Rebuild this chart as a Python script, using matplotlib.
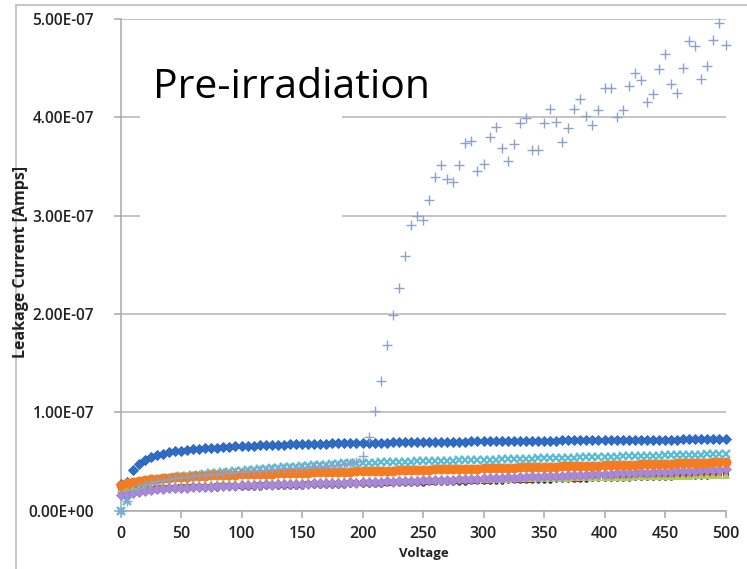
import numpy as np
import matplotlib as mpl
mpl.use('agg')
import matplotlib.pyplot as plt
from matplotlib.patches import Rectangle

# bias voltage, 0..500 V in 5 V steps
voltage = np.arange(0, 501, 5)

# leakage current of each sensor, in nA
blue_diamond = [27, 29, 41, 47.5, 51.5, 54.5, 56.5, 58, 59.2, 60.2, 61,
                61.7, 62.3, 62.8, 63.3, 63.8, 64.2, 64.6, 65, 65.3, 65.6,
                65.9, 66.2, 66.4, 66.6, 66.8, 67, 67.2, 67.4, 67.6, 67.8,
                67.9, 68, 68.1, 68.2, 68.4, 68.5, 68.6, 68.7, 68.8, 68.9,
                69, 69.1, 69.2, 69.3, 69.4, 69.5, 69.6, 69.6, 69.7, 69.8,
                69.9, 70, 70, 70.1, 70.2, 70.3, 70.3, 70.4, 70.5, 70.5,
                70.6, 70.7, 70.7, 70.8, 70.9, 70.9, 71, 71.1, 71.1, 71.2,
                71.3, 71.3, 71.4, 71.4, 71.5, 71.6, 71.6, 71.7, 71.7, 71.8,
                71.9, 71.9, 72, 72, 72.1, 72.1, 72.2, 72.2, 72.3, 72.3,
                72.4, 72.4, 72.5, 72.5, 72.6, 72.6, 72.7, 72.7, 72.8, 72.8]

cyan_x = [0, 10, 22, 26, 28.5, 30, 31.5, 32.5, 33.5, 34.3, 35,
          35.6, 36.2, 36.8, 37.4, 38, 38.5, 39, 39.5, 40, 40.5,
          41, 41.5, 42, 42.5, 43, 43.5, 44, 44.4, 44.8, 45.2,
          45.6, 46, 46.4, 46.8, 47.2, 47.6, 48, 48.2, 48.5, 48.7,
          48.9, 49.0, 49.2, 49.3, 49.5, 49.6, 49.8, 49.9, 50.1, 50.2,
          50.4, 50.5, 50.7, 50.8, 51.0, 51.1, 51.3, 51.4, 51.6, 51.7,
          51.9, 52.0, 52.2, 52.3, 52.5, 52.6, 52.8, 52.9, 53.1, 53.2,
          53.4, 53.5, 53.7, 53.8, 54.0, 54.1, 54.3, 54.4, 54.6, 54.7,
          54.9, 55.0, 55.2, 55.3, 55.5, 55.6, 55.8, 55.9, 56.1, 56.2,
          56.4, 56.5, 56.7, 56.8, 57.0, 57.1, 57.3, 57.4, 57.6, 57.7]

orange_circle = [26, 28, 29.5, 30.5, 31.3, 32, 32.6, 33.1, 33.6, 34, 34.4,
                 34.7, 35.0, 35.3, 35.6, 35.9, 36.1, 36.3, 36.5, 36.7, 36.9,
                 37.1, 37.3, 37.5, 37.6, 37.8, 38.0, 38.1, 38.3, 38.4, 38.6,
                 38.7, 38.9, 39.0, 39.2, 39.3, 39.5, 39.6, 39.8, 39.9, 40.1,
                 40.2, 40.4, 40.5, 40.7, 40.8, 41.0, 41.1, 41.3, 41.4, 41.6,
                 41.7, 41.9, 42.0, 42.2, 42.3, 42.5, 42.6, 42.8, 42.9, 43.1,
                 43.2, 43.4, 43.5, 43.7, 43.8, 44.0, 44.1, 44.3, 44.4, 44.6,
                 44.7, 44.9, 45.0, 45.2, 45.3, 45.5, 45.6, 45.8, 45.9, 46.1,
                 46.2, 46.4, 46.5, 46.7, 46.8, 47.0, 47.1, 47.3, 47.4, 47.6,
                 47.8, 48.0, 48.2, 48.4, 48.6, 48.8, 49.0, 49.3, 49.6, 50.0]

green_tri = [22.5, 23.3, 24.0, 24.5, 24.9, 25.3, 25.6, 25.9, 26.1, 26.3, 26.5,
             26.7, 26.9, 27.1, 27.3, 27.5, 27.6, 27.8, 27.9, 28.1, 28.3,
             28.4, 28.5, 28.6, 28.7, 28.8, 28.9, 29.0, 29.1, 29.2, 29.3,
             29.4, 29.5, 29.6, 29.7, 29.8, 29.9, 30.0, 30.1, 30.2, 30.3,
             30.4, 30.5, 30.6, 30.7, 30.8, 30.9, 31.0, 31.1, 31.2, 31.3,
             31.4, 31.5, 31.6, 31.7, 31.8, 31.9, 32.0, 32.1, 32.2, 32.3,
             32.4, 32.5, 32.6, 32.7, 32.8, 32.9, 33.0, 33.1, 33.2, 33.3,
             33.4, 33.5, 33.6, 33.7, 33.8, 33.9, 34.0, 34.1, 34.2, 34.3,
             34.4, 34.5, 34.6, 34.7, 34.8, 34.9, 35.0, 35.1, 35.2, 35.3,
             35.4, 35.5, 35.6, 35.7, 35.8, 35.9, 36.0, 36.1, 36.2, 36.3]

red_square = [19.0, 20.0, 20.8, 21.4, 21.9, 22.3, 22.6, 22.9, 23.2, 23.4, 23.6,
              23.8, 24.0, 24.2, 24.4, 24.5, 24.7, 24.8, 25.0, 25.1, 25.3,
              25.4, 25.5, 25.7, 25.8, 25.9, 26.1, 26.2, 26.3, 26.5, 26.6,
              26.7, 26.9, 27.0, 27.1, 27.3, 27.4, 27.5, 27.7, 27.8, 27.9,
              28.1, 28.2, 28.3, 28.5, 28.6, 28.7, 28.9, 29.0, 29.1, 29.3,
              29.4, 29.5, 29.7, 29.8, 29.9, 30.1, 30.2, 30.3, 30.5, 30.6,
              30.7, 30.9, 31.0, 31.1, 31.3, 31.4, 31.5, 31.7, 31.8, 31.9,
              32.1, 32.2, 32.3, 32.5, 32.6, 32.7, 32.9, 33.0, 33.1, 33.3,
              33.4, 33.5, 33.7, 33.8, 33.9, 34.1, 34.2, 34.3, 34.5, 34.6,
              34.7, 34.9, 35.0, 35.1, 35.3, 35.4, 35.5, 35.7, 35.8, 35.9]

navy_dot = [15.0, 16.5, 17.6, 18.4, 19.0, 19.5, 19.9, 20.3, 20.6, 20.9, 21.2,
            21.4, 21.6, 21.8, 22.0, 22.2, 22.4, 22.6, 22.7, 22.9, 23.1,
            23.2, 23.4, 23.5, 23.7, 23.8, 24.0, 24.1, 24.3, 24.4, 24.6,
            24.7, 24.9, 25.0, 25.2, 25.3, 25.5, 25.6, 25.8, 25.9, 26.1,
            26.2, 26.4, 26.5, 26.7, 26.8, 27.0, 27.1, 27.3, 27.4, 27.6,
            27.7, 27.9, 28.0, 28.2, 28.3, 28.5, 28.6, 28.8, 28.9, 29.1,
            29.2, 29.4, 29.5, 29.7, 29.8, 30.0, 30.1, 30.3, 30.4, 30.6,
            30.7, 30.9, 31.0, 31.2, 31.3, 31.5, 31.6, 31.8, 31.9, 32.1,
            32.2, 32.4, 32.5, 32.7, 32.8, 33.0, 33.1, 33.3, 33.4, 33.6,
            33.7, 33.9, 34.0, 34.2, 34.3, 34.5, 34.6, 34.8, 34.9, 35.1]

purple_diamond = [15.5, 17.0, 18.5, 19.5, 20.5, 21.0, 21.8, 22.0, 22.6, 22.8, 23.3,
                  23.4, 23.9, 24.0, 24.5, 24.4, 25.0, 25.1, 25.5, 25.4, 26.0,
                  25.9, 26.3, 26.2, 26.7, 26.5, 27.0, 26.9, 27.3, 27.2, 27.6,
                  27.5, 27.9, 27.7, 28.2, 28.0, 28.5, 28.3, 28.7, 28.6, 29.0,
                  28.9, 29.4, 29.2, 29.8, 29.6, 30.2, 30.0, 30.5, 30.4, 30.9,
                  30.8, 31.3, 31.2, 31.7, 31.5, 32.1, 32.0, 32.5, 32.4, 33.0,
                  32.8, 33.4, 33.3, 33.9, 33.7, 34.3, 34.2, 34.8, 34.6, 35.2,
                  35.1, 35.7, 35.5, 36.1, 36.0, 36.6, 36.5, 37.1, 36.9, 37.5,
                  37.4, 38.0, 37.9, 38.5, 38.3, 38.9, 38.8, 39.4, 39.2, 39.8,
                  39.7, 40.3, 40.1, 40.7, 40.6, 41.2, 41.0, 41.6, 41.5, 42.4]

plus_sensor = [0, 10, 21, 25, 27.5, 29, 30.5, 31.5, 32.5, 33.3, 34,
               34.6, 35.2, 35.8, 36.4, 37, 37.5, 38, 38.5, 39, 39.5,
               40, 40.5, 41, 41.5, 42, 42.5, 43, 43.4, 43.8, 44.2,
               44.6, 45, 45.4, 45.8, 46.2, 46.6, 47.2, 48.2, 50.0, 56,
               75, 101, 132, 169, 199, 226, 259, 291, 300, 296,
               316, 339, 352, 337, 334, 352, 374, 376, 345, 353,
               380, 390, 369, 356, 373, 394, 399, 367, 367, 394,
               408, 395, 375, 389, 408, 419, 401, 392, 407, 430,
               430, 400, 407, 432, 445, 438, 416, 424, 449, 464,
               434, 425, 450, 478, 473, 439, 452, 479, 496, 474]

yticks = [0, 1e-7, 2e-7, 3e-7, 4e-7, 5e-7]
ytick_labels = ['0.00E+00', '1.00E-07', '2.00E-07', '3.00E-07', '4.00E-07', '5.00E-07']
xticks = [0, 50, 100, 150, 200, 250, 300, 350, 400, 450, 500]

series = [
    (blue_diamond,   dict(marker='D', ms=5.5, color='#2f6ec8', mec='#2a62b3', mew=0.6)),
    (cyan_x,         dict(marker='x', ms=6.0, color='#5bbcd6', mew=1.7)),
    (navy_dot,       dict(marker='o', ms=3.2, color='#1e2550', mew=0)),
    (red_square,     dict(marker='s', ms=4.5, color='#a3302c', mew=0)),
    (green_tri,      dict(marker='^', ms=5.5, color='#b2cc55', mew=0)),
    (purple_diamond, dict(marker='D', ms=5.4, color='#a88ad8', mec='#9a7cc9', mew=0.5)),
    (orange_circle,  dict(marker='o', ms=7.2, color='#f47b20', mew=0)),
    (plus_sensor,    dict(marker='+', ms=7.5, color='#8da2c8', mew=1.0)),
]

fig = plt.figure(figsize=(7.47, 5.69), dpi=100)
fig.patch.set_facecolor('white')
ax = fig.add_axes([120.5/747, 58.3/569, 605/747, 491.7/569])

for vals, kw in series:
    ax.plot(voltage, np.array(vals)*1e-9, ls='none', clip_on=False, zorder=3, **kw)

ax.set_xlim(0, 500)
ax.set_ylim(0, 5e-7)
ax.set_xticks(xticks)
ax.set_xticklabels([str(x) for x in xticks])
ax.set_yticks(yticks)
ax.set_yticklabels(ytick_labels)
ax.yaxis.grid(True, color='#b4b4b4', lw=1.1, zorder=0)
ax.set_axisbelow(True)
for s in ['top', 'right']:
    ax.spines[s].set_visible(False)
for s in ['left', 'bottom']:
    ax.spines[s].set_color('#a8a8a8')
    ax.spines[s].set_linewidth(1.1)
ax.tick_params(axis='x', direction='out', length=5, color='#a8a8a8', width=1.1,
               pad=6, labelsize=11.5, labelcolor='#222222')
ax.tick_params(axis='y', direction='out', length=5, color='#a8a8a8', width=1.1,
               pad=14, labelsize=11.2, labelcolor='#222222')
for lab in ax.get_xticklabels() + ax.get_yticklabels():
    lab.set_family('Open Sans')
    lab.set_fontweight('semibold')

# white label box hiding part of the gridlines
ax.add_patch(Rectangle((16, 2.45e-7), 167, 2.5e-7, facecolor='white',
                       edgecolor='none', zorder=1))
fig.text(153/747, 1-98/569, 'Pre-irradiation', fontsize=29.5, family='Open Sans',
         color='black', ha='left', va='baseline')

fig.text(424/747, 1-553/569, 'Voltage', fontsize=9.5, fontweight='bold',
         family='Open Sans', ha='center', va='center', color='#222222')
fig.text(21/747, 1-262/569, 'Leakage Current [Amps]', fontsize=11.5, fontweight='bold',
         family='Open Sans', ha='center', va='center', rotation=90, color='#222222')

# outer frame
fig.add_artist(plt.Line2D([16/747, 1], [1-5/569, 1-5/569], color='#c8c8c8', lw=1.5))
fig.add_artist(plt.Line2D([16/747, 16/747], [0, 1-5/569], color='#c8c8c8', lw=1.5))

fig.savefig('out.png', dpi=100, facecolor='white')
